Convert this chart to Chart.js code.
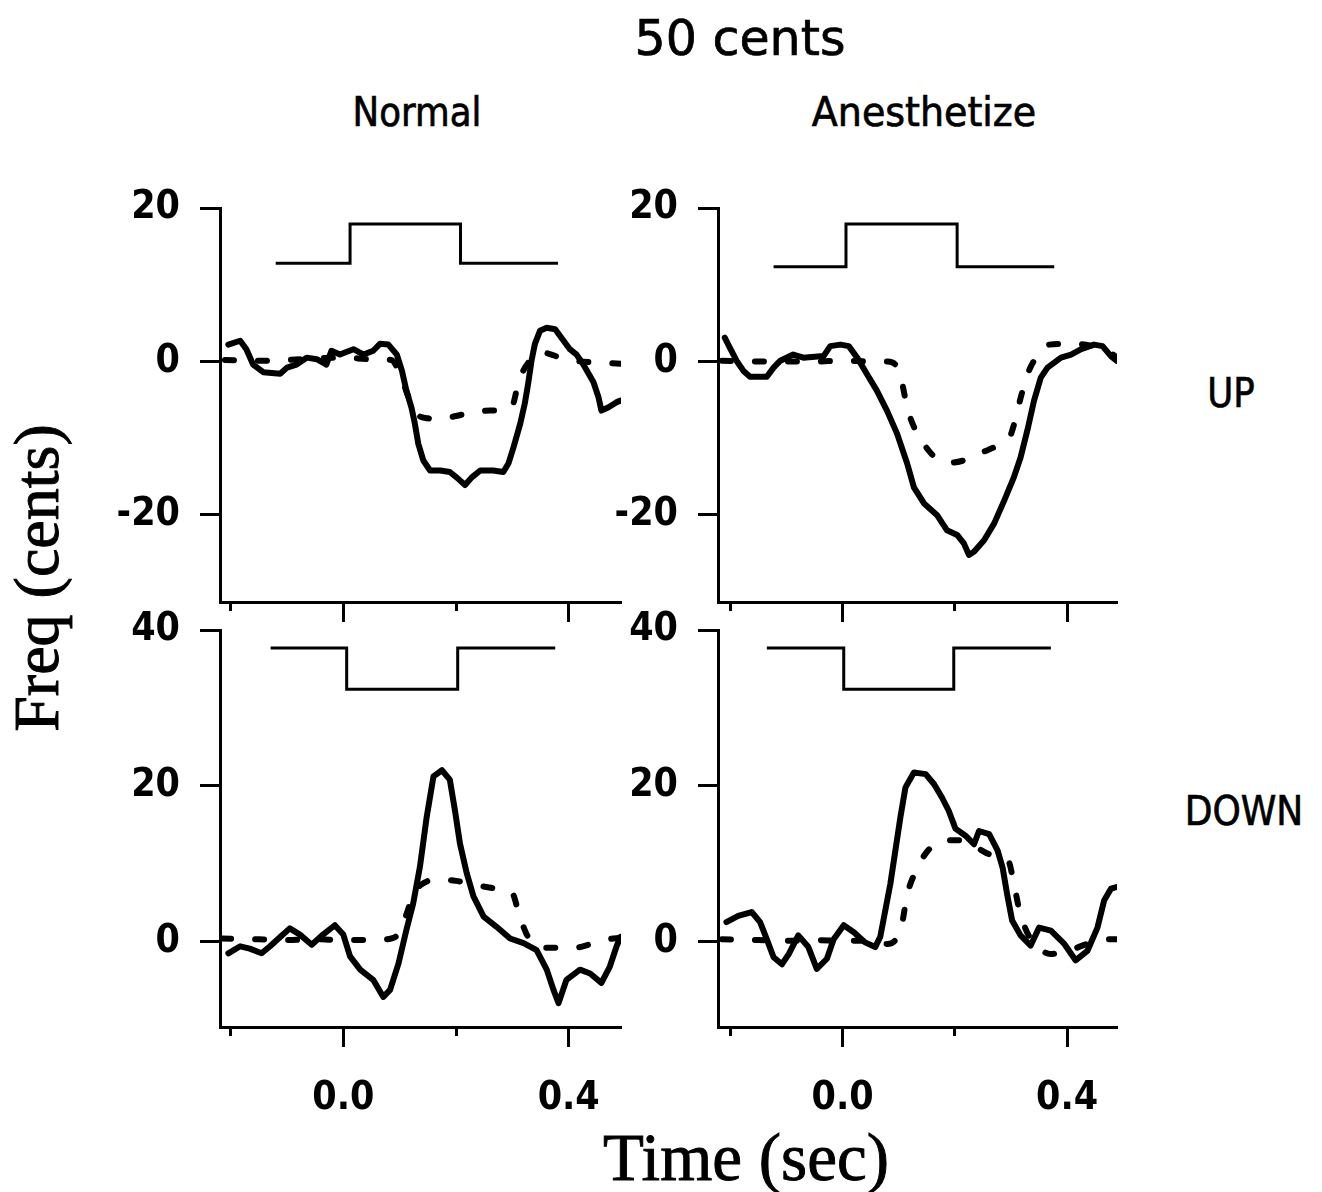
<!DOCTYPE html>
<html lang="en">
<head>
<meta charset="utf-8">
<title>50 cents</title>
<script src="https://cdn.jsdelivr.net/npm/chart.js@4.4.0/dist/chart.umd.min.js"></script>
<style>
    body { margin: 0; background: #fff; }
    #page { position: relative; width: 1322px; height: 1192px; overflow: hidden; background: #fff; }
    canvas { position: absolute; }
    .lbl { position: absolute; white-space: nowrap; line-height: 1; color: #000;
           font-family: "DejaVu Sans", sans-serif; -webkit-text-stroke: 0.7px #000; }
    .serif { font-family: "Liberation Serif", "DejaVu Serif", serif; -webkit-text-stroke: 0.9px #000; }
</style>
</head>
<body>
<div id="page">
    <div class="lbl" style="left:740px; top:38px; font-size:49px; transform: translate(-50%, -50%);">50 cents</div>
    <div class="lbl" style="left:417px; top:112px; font-size:40px; transform: translate(-50%, -50%) scaleX(0.89);">Normal</div>
    <div class="lbl" style="left:924px; top:112px; font-size:40px; transform: translate(-50%, -50%) scaleX(0.95);">Anesthetize</div>
    <div class="lbl" style="left:1231px; top:393px; font-size:40px; transform: translate(-50%, -50%) scaleX(0.89);">UP</div>
    <div class="lbl" style="left:1244px; top:811px; font-size:40px; transform: translate(-50%, -50%) scaleX(0.9);">DOWN</div>
    <div class="lbl serif" style="left:37px; top:578px; font-size:64px; transform: translate(-50%, -50%) rotate(-90deg);">Freq (cents)</div>
    <div class="lbl serif" style="left:746px; top:1157px; font-size:67px; transform: translate(-50%, -50%);">Time (sec)</div>

    <canvas id="upNormal" width="546" height="459" style="left:100px; top:183px;"></canvas>
    <canvas id="upAnes" width="544" height="459" style="left:598px; top:183px;"></canvas>
    <canvas id="downNormal" width="546" height="522" style="left:100px; top:605px;"></canvas>
    <canvas id="downAnes" width="544" height="522" style="left:598px; top:605px;"></canvas>
</div>

<script>
    // ---- UP, Normal ----
    const upNormalT = [-0.204, -0.183, -0.172, -0.160, -0.142, -0.112, -0.100, -0.083, -0.065, -0.047, -0.030, -0.021, -0.006, 0.018, 0.036, 0.053, 0.065, 0.080, 0.095, 0.104, 0.112, 0.121, 0.127, 0.133, 0.142, 0.154, 0.172, 0.189, 0.201, 0.216, 0.228, 0.243, 0.266, 0.284, 0.293, 0.302, 0.314, 0.322, 0.328, 0.334, 0.340, 0.349, 0.361, 0.376, 0.387, 0.402, 0.414, 0.426, 0.444, 0.453, 0.458, 0.470, 0.485, 0.492];
    const upNormalF = [2.2, 2.7, 1.6, -0.4, -1.4, -1.6, -0.8, -0.4, 0.5, 0.3, -0.4, 1.4, 0.9, 1.6, 0.9, 1.4, 2.3, 2.2, 0.9, -1.2, -3.8, -6.0, -8.1, -10.7, -12.9, -14.2, -14.2, -14.4, -15.1, -16.1, -15.1, -14.2, -14.2, -14.4, -13.3, -11.2, -8.1, -5.5, -2.9, 0.1, 2.3, 4.0, 4.4, 4.2, 3.1, 1.6, 0.9, -0.4, -2.7, -4.7, -6.4, -6.0, -5.3, -5.1];
    const upNormalDashT = [-0.210, -0.150, -0.100, -0.050, 0.000, 0.050, 0.085, 0.100, 0.115, 0.130, 0.150, 0.170, 0.200, 0.230, 0.260, 0.285, 0.300, 0.310, 0.318, 0.330, 0.350, 0.365, 0.385, 0.410, 0.440, 0.470, 0.492];
    const upNormalDashF = [0.2, 0.1, 0.2, 0.4, 0.5, 0.3, 0.2, -1.5, -4.5, -6.8, -7.4, -7.5, -7.1, -6.6, -6.4, -6.4, -5.8, -3.0, -1.4, 0.0, 1.2, 1.0, 0.5, 0.1, -0.1, -0.2, -0.3];
    const upNormalStimT = [-0.120, 0.012, 0.208, 0.381];
    const upNormalStimF = [12.8, 17.9, 12.8, 12.8];

    // ---- UP, Anesthetize ----
    const upAnesT = [-0.210, -0.201, -0.189, -0.177, -0.165, -0.135, -0.123, -0.111, -0.088, -0.070, -0.034, -0.022, -0.004, 0.011, 0.026, 0.043, 0.061, 0.079, 0.097, 0.115, 0.127, 0.145, 0.168, 0.186, 0.204, 0.216, 0.225, 0.234, 0.252, 0.270, 0.288, 0.305, 0.317, 0.329, 0.341, 0.353, 0.365, 0.389, 0.407, 0.425, 0.448, 0.463, 0.478, 0.488];
    const upAnesF = [3.1, 1.8, 0.1, -1.2, -2.0, -2.0, -0.8, 0.1, 0.9, 0.5, 0.7, 2.0, 2.2, 2.0, 0.5, -1.6, -3.8, -6.4, -9.4, -13.3, -16.4, -18.5, -20.0, -22.0, -22.6, -23.7, -25.2, -24.8, -23.3, -21.1, -18.1, -15.1, -12.5, -9.0, -5.1, -2.1, -0.8, 0.5, 0.9, 1.6, 2.2, 2.0, 0.7, 0.1];
    const upAnesDashT = [-0.215, -0.150, -0.100, -0.050, 0.000, 0.050, 0.080, 0.095, 0.105, 0.115, 0.130, 0.145, 0.165, 0.190, 0.220, 0.250, 0.280, 0.298, 0.308, 0.318, 0.332, 0.350, 0.368, 0.400, 0.440, 0.470, 0.488];
    const upAnesDashF = [0.1, 0.0, 0.0, 0.0, 0.1, 0.0, 0.0, -0.5, -2.5, -6.0, -9.0, -10.8, -12.5, -13.2, -12.8, -11.8, -10.8, -9.8, -7.5, -4.5, -1.2, 1.0, 2.2, 2.3, 2.1, 1.4, 0.6];
    const upAnesStimT = [-0.123, 0.006, 0.204, 0.377];
    const upAnesStimF = [12.35, 17.9, 12.35, 12.35];

    // ---- DOWN, Normal ----
    const downNormalT = [-0.204, -0.183, -0.166, -0.145, -0.130, -0.112, -0.095, -0.077, -0.056, -0.036, -0.015, 0.000, 0.012, 0.030, 0.053, 0.071, 0.083, 0.098, 0.112, 0.124, 0.136, 0.148, 0.160, 0.175, 0.189, 0.198, 0.207, 0.219, 0.231, 0.249, 0.272, 0.296, 0.320, 0.343, 0.361, 0.373, 0.382, 0.396, 0.420, 0.438, 0.458, 0.473, 0.485, 0.492];
    const downNormalF = [-1.5, -0.6, -0.9, -1.5, -0.6, 0.6, 1.7, 0.9, -0.4, 0.9, 2.1, 0.9, -1.9, -3.6, -4.9, -7.1, -6.2, -2.8, 1.5, 4.9, 9.6, 16.0, 21.2, 22.0, 20.8, 16.9, 12.6, 8.8, 5.8, 3.2, 1.9, 0.4, -0.2, -1.1, -3.6, -6.2, -7.9, -4.9, -3.6, -4.1, -5.3, -3.2, -0.6, 0.6];
    const downNormalDashT = [-0.215, -0.150, -0.100, -0.050, 0.000, 0.050, 0.085, 0.100, 0.112, 0.125, 0.145, 0.170, 0.200, 0.240, 0.280, 0.300, 0.312, 0.325, 0.340, 0.370, 0.410, 0.440, 0.470, 0.492];
    const downNormalDashF = [0.4, 0.3, 0.2, 0.3, 0.2, 0.2, 0.4, 1.2, 3.5, 6.2, 7.6, 8.0, 7.8, 7.2, 6.7, 6.2, 3.5, 1.0, -0.4, -0.8, -0.8, -0.3, 0.3, 0.5];
    const downNormalStimT = [-0.129, 0.006, 0.203, 0.376];
    const downNormalStimF = [37.7, 32.4, 37.7, 37.7];

    // ---- DOWN, Anesthetize ----
    const downAnesT = [-0.207, -0.186, -0.162, -0.147, -0.135, -0.123, -0.108, -0.096, -0.079, -0.061, -0.046, -0.028, -0.016, 0.002, 0.020, 0.040, 0.058, 0.067, 0.076, 0.085, 0.094, 0.103, 0.112, 0.127, 0.148, 0.163, 0.177, 0.189, 0.201, 0.219, 0.234, 0.243, 0.261, 0.276, 0.285, 0.293, 0.302, 0.317, 0.335, 0.350, 0.371, 0.395, 0.415, 0.436, 0.454, 0.466, 0.478, 0.488];
    const downAnesF = [2.5, 3.3, 3.8, 2.5, 0.3, -2.0, -2.9, -1.6, 0.8, -0.7, -3.5, -2.2, 0.3, 2.1, 1.2, -0.1, -0.7, 0.6, 4.0, 7.4, 11.7, 16.0, 19.8, 21.7, 21.5, 20.2, 18.5, 16.8, 14.5, 13.6, 12.5, 14.2, 13.8, 11.7, 9.5, 6.1, 2.7, 0.8, -0.5, 1.8, 1.4, -0.3, -2.4, -1.2, 1.8, 5.3, 6.8, 7.0];
    const downAnesDashT = [-0.215, -0.150, -0.100, -0.050, 0.000, 0.050, 0.080, 0.095, 0.105, 0.115, 0.130, 0.150, 0.180, 0.210, 0.240, 0.270, 0.295, 0.305, 0.315, 0.330, 0.350, 0.370, 0.400, 0.440, 0.470, 0.488];
    const downAnesDashF = [0.3, 0.2, 0.1, 0.2, 0.1, 0.1, -0.3, 0.3, 2.0, 6.0, 9.0, 11.5, 13.0, 13.0, 12.0, 11.0, 10.4, 7.5, 4.0, 1.0, -0.8, -1.6, -1.2, -0.2, 0.3, 0.3];
    const downAnesStimT = [-0.135, 0.002, 0.198, 0.371];
    const downAnesStimF = [37.7, 32.4, 37.7, 37.7];

    // axis ticks
    const timeTicks = [-0.2, 0.0, 0.2, 0.4];
    const timeLabels = [0.0, 0.4];
    const upTicks = [-20, 0, 20];
    const downTicks = [0, 20, 40];

    Chart.defaults.font.family = "'DejaVu Sans Condensed', 'DejaVu Sans'";
    Chart.defaults.color = "#000";

    let toXY = (t, f) => t.map((x, i) => ({x: x, y: f[i]}));

    let isLabelTick = v => timeLabels.some(l => Math.abs(l - v) < 1e-9);

    let makePanel = (id, p) => {
        let ctx = document.getElementById(id).getContext("2d");
        return new Chart(ctx, {
            type: 'line',
            data: {
                datasets: [
                    {
                        data: toXY(p.stimT, p.stimF),
                        borderColor: '#000', borderWidth: 3, stepped: true,
                        pointRadius: 0
                    },
                    {
                        data: toXY(p.dashT, p.dashF),
                        borderColor: '#000', borderWidth: 6, borderDash: [9, 24],
                        borderCapStyle: 'round', cubicInterpolationMode: 'monotone',
                        pointRadius: 0
                    },
                    {
                        data: toXY(p.t, p.f),
                        borderColor: '#000', borderWidth: 6, borderJoinStyle: 'round',
                        borderCapStyle: 'round', pointRadius: 0
                    }
                ]
            },
            options: {
                responsive: false,
                animation: false,
                events: [],
                layout: {padding: {top: 25, right: 25, left: 0, bottom: 0}},
                plugins: {legend: {display: false}, tooltip: {enabled: false}},
                scales: {
                    x: {
                        type: 'linear',
                        min: p.xMin, max: p.xMax,
                        afterBuildTicks: s => { s.ticks = timeTicks.map(v => ({value: v})); },
                        afterFit: s => { s.height = p.xH; s.paddingLeft = 0; s.paddingRight = 0; },
                        border: {display: true, color: '#000', width: 3},
                        grid: {
                            drawOnChartArea: false, drawTicks: true, tickLength: 20,
                            tickWidth: 3, tickColor: '#000',
                            tickBorderDash: c => isLabelTick(c.tick.value) ? [] : [7, 60]
                        },
                        ticks: {
                            autoSkip: false, maxRotation: 0, padding: 28,
                            font: {size: 39, weight: 'bold'},
                            callback: v => (p.showTime && isLabelTick(v)) ? v.toFixed(1) : ''
                        }
                    },
                    y: {
                        min: p.yMin, max: p.yMax,
                        afterBuildTicks: s => { s.ticks = p.yTicks.map(v => ({value: v})); },
                        afterFit: s => { s.width = 120; s.paddingTop = 0; s.paddingBottom = 0; },
                        border: {display: true, color: '#000', width: 3},
                        grid: {
                            drawOnChartArea: false, drawTicks: true, tickLength: 20,
                            tickWidth: 3, tickColor: '#000'
                        },
                        ticks: {padding: 20, font: {size: 39, weight: 'bold'}, callback: v => String(v)}
                    }
                }
            }
        });
    }

    makePanel("upNormal", {
        t: upNormalT, f: upNormalF, dashT: upNormalDashT, dashF: upNormalDashF,
        stimT: upNormalStimT, stimF: upNormalStimF,
        xMin: -0.2188, xMax: 0.4928, yMin: -31.34, yMax: 20, yTicks: upTicks, xH: 40, showTime: false
    });
    makePanel("upAnes", {
        t: upAnesT, f: upAnesF, dashT: upAnesDashT, dashF: upAnesDashF,
        stimT: upAnesStimT, stimF: upAnesStimF,
        xMin: -0.222, xMax: 0.4888, yMin: -31.34, yMax: 20, yTicks: upTicks, xH: 40, showTime: false
    });
    makePanel("downNormal", {
        t: downNormalT, f: downNormalF, dashT: downNormalDashT, dashF: downNormalDashF,
        stimT: downNormalStimT, stimF: downNormalStimF,
        xMin: -0.2188, xMax: 0.4928, yMin: -10.96, yMax: 40, yTicks: downTicks, xH: 100, showTime: true
    });
    makePanel("downAnes", {
        t: downAnesT, f: downAnesF, dashT: downAnesDashT, dashF: downAnesDashF,
        stimT: downAnesStimT, stimF: downAnesStimF,
        xMin: -0.222, xMax: 0.4888, yMin: -10.96, yMax: 40, yTicks: downTicks, xH: 100, showTime: true
    });
</script>
</body>
</html>
